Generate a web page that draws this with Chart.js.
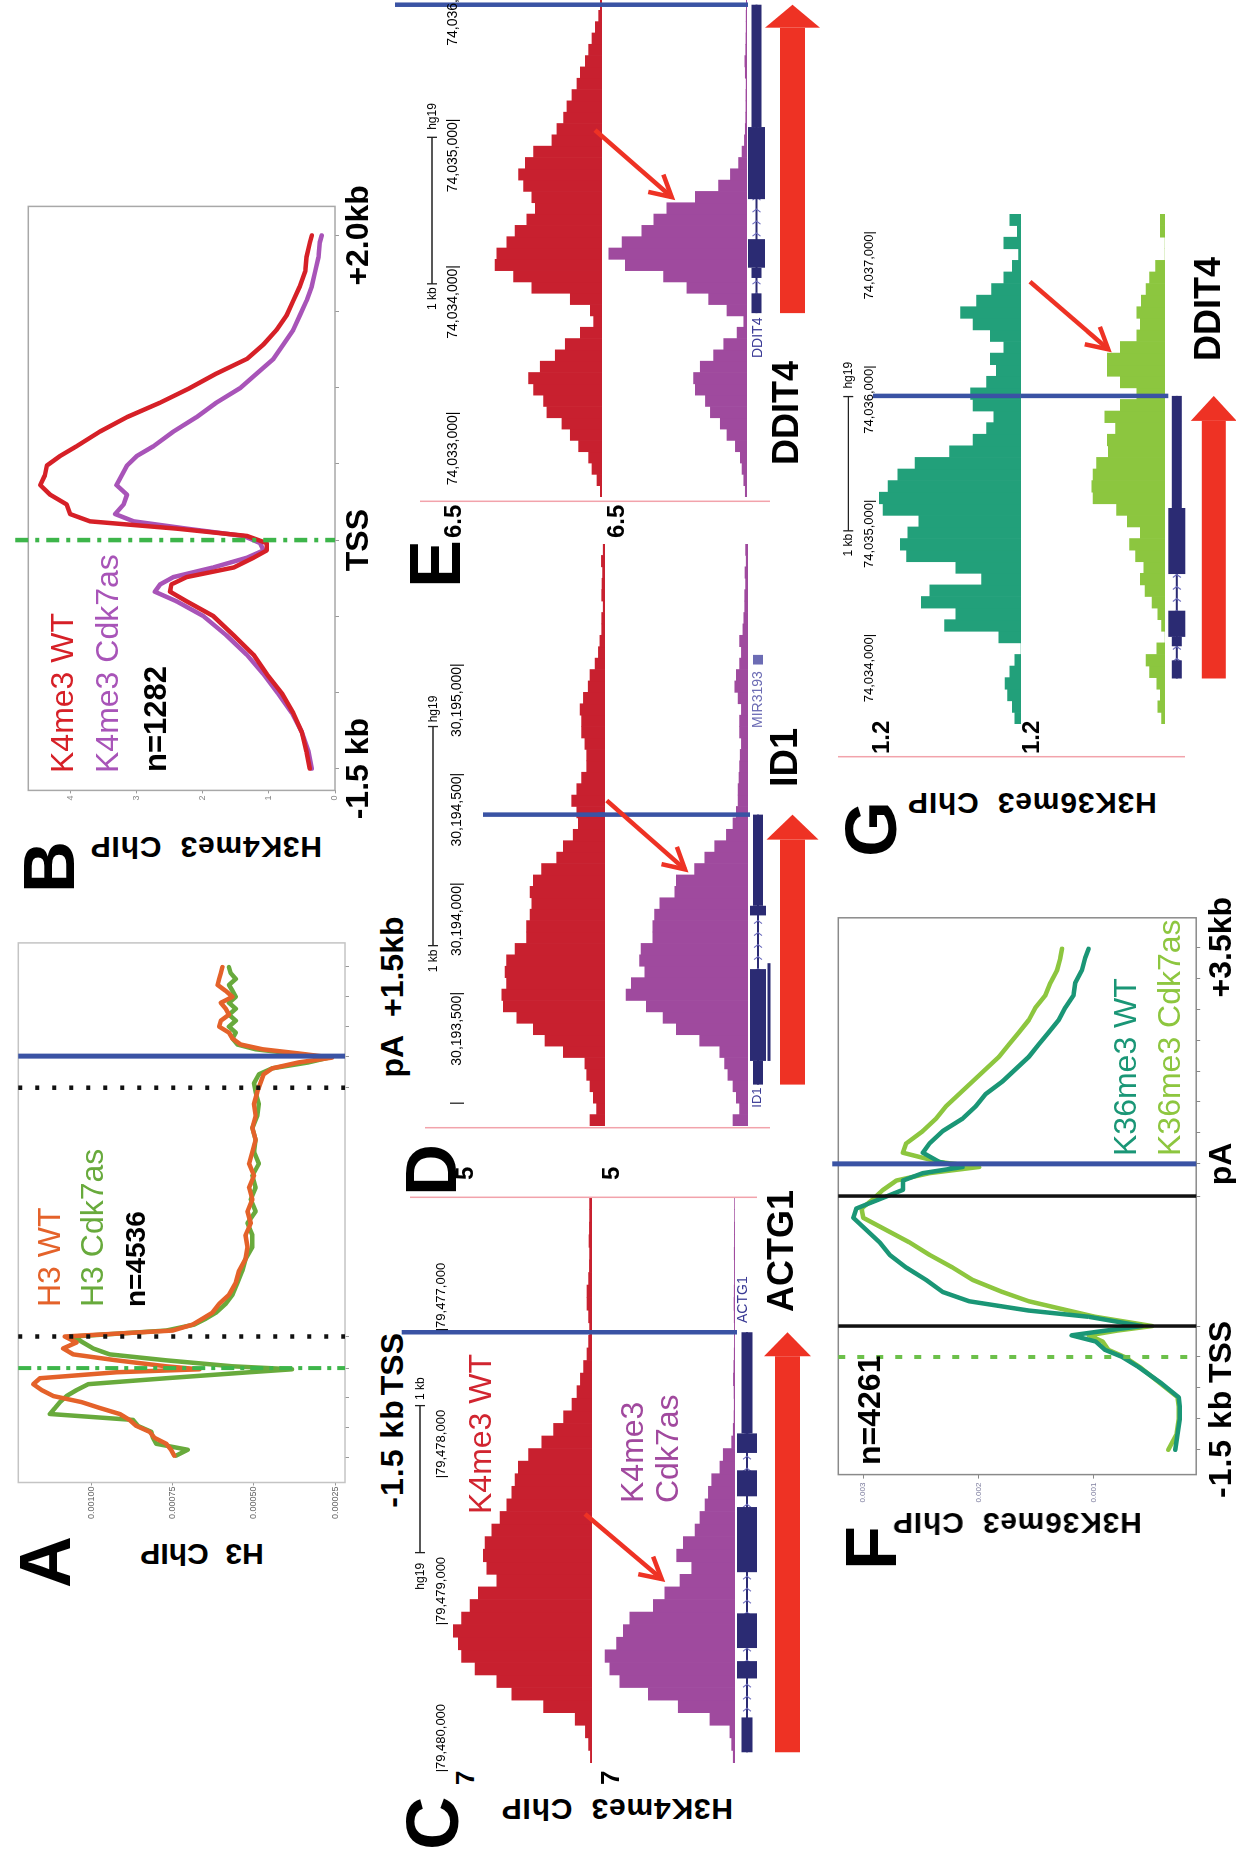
<!DOCTYPE html>
<html lang="en">
<head>
<meta charset="utf-8">
<title>H3, H3K4me3 and H3K36me3 ChIP profiles, WT vs Cdk7as</title>
<script src="https://cdn.jsdelivr.net/npm/chart.js@4.4.1/dist/chart.umd.min.js"></script>
<style>
  html, body { margin: 0; padding: 0; background: #fff; }
  body { width: 1236px; height: 1860px; overflow: hidden; position: relative; }
  /* the figure is laid out landscape (1860 x 1236) and turned a quarter turn */
  #fig { position: absolute; left: 0; top: 0; width: 1860px; height: 1236px; overflow: hidden; background: #fff;
         transform-origin: 0 0; transform: translateY(1860px) rotate(-90deg);
         font-family: 'Liberation Sans', Arial, Helvetica, sans-serif; }
  #fig canvas { position: absolute; }
  .t { position: absolute; white-space: pre; line-height: 1; }
</style>
</head>
<body>
<div id="fig"></div>
<script>
// ---------------- data ----------------

// A: H3 metagene (x in 0.5-kb units: TSS = 0, scaled gene body, pA = 10.47)
const aPos = [-2.94,-2.74,-2.54,-2.34,-2.14,-1.94,-1.74,-1.54,-1.34,-1.14,-0.94,-0.74,-0.54,-0.34,-0.14,-0.04,0.06,0.26,0.46,0.66,0.86,1.06,1.26,1.46,1.66,1.86,2.16,2.46,2.86,3.26,3.66,4.06,4.46,4.86,5.26,5.66,6.06,6.46,6.86,7.26,7.66,8.06,8.46,8.86,9.26,9.56,9.86,10.06,10.26,10.42,10.56,10.70,10.86,11.06,11.26,11.46,11.66,11.86,12.06,12.26,12.46,12.66,12.86,13.06,13.26,13.46];
const aH3WT = [0.000745,0.000755,0.00077,0.000806,0.000821,0.000862,0.000883,0.000913,0.000974,0.001031,0.001117,0.001153,0.001179,0.001158,0.000923,0.000668,0.00077,0.000923,0.001056,0.001087,0.001046,0.001082,0.00075,0.000689,0.000658,0.000628,0.000607,0.000577,0.000556,0.000546,0.000526,0.00052,0.000526,0.00051,0.00052,0.000505,0.000515,0.0005,0.000515,0.000505,0.000495,0.000505,0.000495,0.0005,0.00049,0.00048,0.00047,0.000444,0.000362,0.00026,0.000362,0.000474,0.000541,0.000566,0.000577,0.000607,0.000602,0.000577,0.000587,0.000602,0.000566,0.000587,0.000612,0.000607,0.000602,0.000597];
const aH3Cdk7as = [0.00074,0.000704,0.000801,0.000811,0.000816,0.000857,0.000872,0.001128,0.001112,0.001097,0.001077,0.001046,0.00101,0.00077,0.000515,0.000383,0.000566,0.00077,0.000944,0.000995,0.001026,0.001056,0.00077,0.000684,0.000648,0.000617,0.000587,0.000566,0.000551,0.000536,0.000526,0.000505,0.000505,0.00052,0.000495,0.00051,0.000495,0.000505,0.000485,0.0005,0.000495,0.000505,0.00049,0.000485,0.000495,0.0005,0.000485,0.000444,0.000332,0.00027,0.000383,0.000495,0.000551,0.000566,0.000556,0.000577,0.000556,0.000577,0.000556,0.000577,0.000556,0.000566,0.000577,0.000556,0.000572,0.000577];
const aTicks = [-3,-2,-1,0,1.06,9.41,10.47,11.47,12.47,13.47];
const aYTicks = [0.00025,0.0005,0.00075,0.001];

// B: H3K4me3 around the TSS (x in kb)
const bPos = [-1.50,-1.389,-1.262,-1.135,-1.007,-0.880,-0.753,-0.625,-0.498,-0.402,-0.339,-0.291,-0.243,-0.180,-0.116,-0.068,-0.020,0.027,0.075,0.123,0.171,0.234,0.298,0.361,0.425,0.489,0.552,0.616,0.712,0.807,0.902,0.998,1.093,1.189,1.284,1.380,1.475,1.571,1.666,1.762,1.857,1.953,2.0];
const bK4WT = [0.38,0.43,0.50,0.63,0.80,1.03,1.23,1.53,1.84,2.24,2.49,2.47,2.24,1.53,1.23,1.03,1.03,1.33,2.39,3.70,4.00,4.05,4.30,4.45,4.38,4.35,4.15,3.90,3.55,3.14,2.64,2.19,1.79,1.33,1.08,0.88,0.73,0.63,0.53,0.45,0.43,0.38,0.35];
const bK4Cdk7as = [0.35,0.40,0.50,0.65,0.86,1.08,1.33,1.64,1.99,2.39,2.72,2.64,2.44,1.84,1.33,1.08,1.13,1.38,2.24,3.04,3.32,3.19,3.14,3.30,3.22,3.14,2.99,2.74,2.44,2.09,1.79,1.43,1.18,0.93,0.78,0.63,0.53,0.43,0.35,0.30,0.25,0.23,0.20];
const bTicks = [-1.5,-1,-0.5,0,0.5,1,1.5,2];
const bYTicks = [0,1,2,3,4];

// F: H3K36me3 metagene (x in 0.5-kb units: TSS = 0, pA = 6.24)
const fPos = [-3.00,-2.50,-2.01,-1.60,-1.30,-0.85,-0.32,0.00,0.23,0.50,0.70,0.85,1.00,1.30,1.50,1.80,2.10,2.49,2.89,3.30,3.70,4.10,4.50,4.80,5.10,5.40,5.70,5.94,6.14,6.30,6.60,6.90,7.30,7.70,8.10,8.50,8.90,9.30,9.70,10.10,10.49,10.89,11.29,11.69,12.09,12.49,12.89,13.19];
const fK36WT = [0.00029,0.00027,0.00025,0.00025,0.00026,0.00041,0.00061,0.00075,0.0009,0.00098,0.00119,0.0009,0.00058,0.001043,0.001561,0.002079,0.002309,0.002453,0.002626,0.00277,0.002856,0.002971,0.003086,0.003058,0.002856,0.002655,0.002655,0.002482,0.002137,0.002338,0.002482,0.002424,0.002309,0.002137,0.002022,0.001935,0.001791,0.001676,0.001561,0.001475,0.001389,0.001302,0.001245,0.001173,0.001158,0.001101,0.001072,0.001043];
const fK36Cdk7as = [0.00035,0.00028,0.00026,0.00026,0.00027,0.00042,0.0006,0.00073,0.00087,0.00092,0.00104,0.0008,0.00049,0.000986,0.001216,0.001561,0.001791,0.00205,0.002223,0.002424,0.002597,0.002799,0.003,0.003014,0.002914,0.002827,0.002712,0.002424,0.001993,0.002338,0.002655,0.002626,0.002482,0.002367,0.002281,0.002165,0.00205,0.001935,0.00182,0.001734,0.001647,0.001561,0.001504,0.001417,0.001374,0.001317,0.001288,0.001273];
const fTicks = [-3,-2,-1,0,1,5.2,6.24,7.24,8.24,9.24,10.24,11.24,12.24,13.24];
const fYTicks = [0.001,0.002,0.003];

// C: ACTG1 browser tracks (equal-width bins, left to right)
const cWT = [0.08,0.17,0.33,0.84,2.42,4.01,4.76,5.85,6.52,6.68,6.93,6.52,6.10,5.68,4.76,5.26,5.43,5.35,5.01,4.59,4.26,4.01,3.84,3.68,3.17,2.51,1.92,1.42,1.00,0.75,0.58,0.42,0.25,0.17,0.12,0.17,0.25,0.25,0.17,0.13,0.12,0.15,0.13,0.12,0.12];
const cCdk7as = [0.09,0.17,0.26,1.28,2.90,4.43,5.88,6.39,6.64,6.05,5.71,5.37,4.17,3.58,2.81,2.21,2.98,2.64,2.04,1.79,1.53,1.36,1.19,0.77,0.60,0.17,0.09,0.05,0.04,0.05,0.08,0.06,0.04,0.03,0.03,0.04,0.05,0.04,0.03,0.03,0.04,0.03,0.03,0.02,0.02];
const cCoordTicks = [79480000,79479000,79478000,79477000];

// D: ID1 browser tracks
const dWT = [0.5,0.28,0.39,0.5,0.61,0.67,1.39,2.0,2.39,2.94,3.39,3.44,3.28,3.33,3.28,3.0,2.61,2.61,2.5,2.44,2.5,2.39,2.11,1.61,1.39,1.06,0.89,0.94,1.11,0.94,0.78,0.61,0.61,0.67,0.78,0.78,0.83,0.72,0.56,0.5,0.33,0.22,0.17,0.11,0.11,0.06,0.11,0.1,0.08,0.12,0.06];
const dCdk7as = [0.5,0.28,0.39,0.5,0.67,0.78,0.94,1.61,2.39,2.83,3.39,4.06,3.89,3.44,3.61,3.56,3.17,3.17,3.11,2.94,2.44,2.39,1.78,1.44,1.11,0.72,0.5,0.39,0.33,0.33,0.3,0.28,0.26,0.22,0.28,0.28,0.22,0.33,0.44,0.39,0.28,0.22,0.28,0.17,0.14,0.11,0.11,0.08,0.1,0.06,0.08];
const dCoordTicks = [30193500,30194000,30194500,30195000];

// E: DDIT4 H3K4me3 browser tracks
const eWT = [0.07,0.21,0.42,0.56,0.98,1.33,1.68,2.31,2.45,2.87,3.08,2.59,1.96,1.54,0.91,0.35,0.49,1.33,2.94,3.71,4.48,4.41,3.99,3.64,3.15,2.80,2.94,3.29,3.50,3.22,2.87,2.10,1.89,1.61,1.47,1.26,1.05,0.91,0.70,0.56,0.42,0.28,0.14,0.07];
const eCdk7as = [0.08,0.15,0.23,0.31,0.54,0.93,1.24,1.70,1.93,2.40,2.48,2.17,1.55,1.08,0.46,0.15,0.93,1.78,2.79,3.87,5.65,6.42,5.80,4.88,4.33,3.72,2.40,1.32,0.77,0.39,0.23,0.12,0.08,0.06,0.05,0.05,0.04,0.08,0.1,0.06,0.05,0.04,0.04,0.03];
const eCoordTicks = [74033000,74034000,74035000,74036000];

// G: DDIT4 H3K36me3 browser tracks
const gWT = [0.05,0.07,0.11,0.13,0.09,0.05,0,0.18,0.62,0.53,0.81,0.74,0.32,0.53,0.93,0.98,0.92,0.83,1.12,1.15,1.08,1.00,0.86,0.58,0.39,0.28,0.22,0.39,0.41,0.28,0.20,0.25,0.14,0.25,0.39,0.49,0.36,0.24,0.14,0.07,0.02,0.14,0.03,0.09];
const gCdk7as = [0.03,0.06,0.04,0.07,0.13,0.16,0.07,0,0.03,0.06,0.11,0.17,0.21,0.18,0.25,0.30,0.21,0.32,0.41,0.61,0.62,0.61,0.58,0.48,0.49,0.42,0.51,0.38,0.24,0.38,0.49,0.49,0.38,0.24,0.21,0.24,0.20,0.16,0.13,0.08,0,0,0.04,0.04];
const gCoordTicks = [74034000,74035000,74036000,74037000];

// gene models (hg19 coordinates)
const actg1Span = [79479877,79477020];
const actg1Thin = [[79479640,79479877],[79477020,79477708]];
const actg1Thick = [[79479257,79479375],[79478932,79479168],[79478209,79478652],[79477959,79478136],[79477708,79477841]];
const id1Span = [30193086,30194318];
const id1Thin = [[30193086,30193194],[30193902,30194318]];
const id1Thick = [[30193194,30193613],[30193858,30193902]];
const id1Alt = [[30193194,30193640]];
const mir3193 = [30195003,30195047];
const ddit4Span = [74033680,74035785];
const ddit4Thin = [[74033680,74033815],[74033920,74033990],[74034950,74035785]];
const ddit4Thick = [[74033990,74034185],[74034458,74034950]];

// ---------------- drawing ----------------
const fig = document.getElementById('fig');
Chart.defaults.font.family = "'Liberation Sans', Arial, Helvetica, sans-serif";

const BLUE = '#3a53a4', NAVY = '#2b2b73', ARROW_RED = '#ee3224';

function canvasAt(x, y, w, h) {
  const c = document.createElement('canvas');
  c.width = Math.round(w); c.height = Math.round(h);
  c.style.left = x + 'px'; c.style.top = y + 'px';
  fig.appendChild(c);
  return c;
}

// text placed by its left edge (or centre / right edge) and the top of its capitals
function txt(s, x, capTop, size, o = {}) {
  const d = document.createElement('div');
  d.className = 't';
  d.textContent = s;
  d.style.fontSize = size + 'px';
  d.style.fontWeight = o.bold ? '700' : '400';
  d.style.color = o.color || '#000';
  if (o.spacing) d.style.letterSpacing = o.spacing + 'px';
  d.style.left = x + 'px';
  d.style.top = (capTop - 0.1305 * size) + 'px';
  if (o.align === 'center') d.style.transform = 'translateX(-50%)';
  if (o.align === 'right') d.style.transform = 'translateX(-100%)';
  fig.appendChild(d);
  return d;
}
// axis title turned to read bottom-to-top, centred on (cx, cy)
function vtxt(s, cx, cy, size, o = {}) {
  const d = document.createElement('div');
  d.className = 't';
  d.textContent = s;
  d.style.fontSize = size + 'px';
  d.style.fontWeight = o.bold ? '700' : '400';
  d.style.color = o.color || '#000';
  if (o.spacing) d.style.letterSpacing = o.spacing + 'px';
  d.style.left = cx + 'px';
  d.style.top = cy + 'px';
  d.style.transform = 'translate(-50%,-50%) rotate(-90deg)';
  fig.appendChild(d);
  return d;
}

// box around the plotting area
const framePlugin = {
  id: 'frame',
  beforeDatasetsDraw(chart, args, o) {
    if (!o || !o.color) return;
    const { left, top, right, bottom } = chart.chartArea;
    const ctx = chart.ctx;
    ctx.save();
    ctx.strokeStyle = o.color; ctx.lineWidth = o.width || 1.5;
    ctx.strokeRect(left, top, right - left, bottom - top);
    ctx.restore();
  }
};

// vertical reference lines (TSS, gene-body boundaries, pA)
const refLinesPlugin = {
  id: 'refLines',
  afterDatasetsDraw(chart, args, o) {
    const ctx = chart.ctx, xs = chart.scales.x, { top, bottom } = chart.chartArea;
    (o.lines || []).forEach(l => {
      const px = xs.getPixelForValue(l.at);
      ctx.save();
      ctx.strokeStyle = l.color; ctx.lineWidth = l.width; ctx.setLineDash(l.dash || []);
      ctx.beginPath();
      ctx.moveTo(px, top - (l.above || 0));
      ctx.lineTo(px, bottom);
      ctx.stroke();
      ctx.restore();
    });
  }
};

function profileChart(p) {
  const c = canvasAt(p.left, p.top, p.width, p.height);
  return new Chart(c, {
    type: 'line',
    data: {
      datasets: p.series.map(s => ({
        data: p.pos.map((x, i) => ({ x, y: s.values[i] })),
        borderColor: s.color, borderWidth: 4.5, pointRadius: 0, tension: 0, fill: false,
        borderJoinStyle: 'round', borderCapStyle: 'round'
      }))
    },
    options: {
      responsive: false, animation: false, devicePixelRatio: 1,
      layout: { padding: { left: 0, top: p.padTop, right: p.padRight, bottom: 0 } },
      plugins: { legend: { display: false }, tooltip: { enabled: false },
                 frame: { color: p.frameColor }, refLines: { lines: p.lines } },
      scales: {
        x: { type: 'linear', min: p.xMin, max: p.xMax, offset: false,
             afterFit: s => { s.height = p.xAxisH; },
             afterBuildTicks: s => { s.ticks = p.xTicks.map(v => ({ value: v })); },
             ticks: { callback: () => '', autoSkip: false, maxRotation: 0, padding: 0 },
             grid: { drawOnChartArea: false, tickLength: 4, color: p.tickColor },
             border: { display: false } },
        y: { type: 'linear', min: p.yMin, max: p.yMax,
             afterFit: s => { s.width = p.yAxisW; },
             afterBuildTicks: s => { s.ticks = p.yTicks.map(v => ({ value: v })); },
             ticks: { callback: v => p.yFmt(v), color: p.yTickColor, font: { size: p.yTickSize }, padding: p.yTickPad },
             grid: { drawOnChartArea: false, tickLength: p.yTickLen, color: p.tickColor },
             border: { display: false } }
      }
    },
    plugins: [framePlugin, refLinesPlugin]
  });
}

// gene model, direction arrow, pA line and scale bar, all placed on the genomic axis
const genomeDecor = {
  id: 'genomeDecor',
  afterDatasetsDraw(chart, args, o) {
    const ctx = chart.ctx, xs = chart.scales.xg, T = o.canvasTop;
    const X = v => xs.getPixelForValue(v);
    ctx.save();
    if (o.scaleBar) {
      const sb = o.scaleBar, y = sb.y - T, x0 = X(sb.from), x1 = X(sb.to);
      ctx.strokeStyle = '#222'; ctx.lineWidth = 1.3;
      ctx.beginPath();
      ctx.moveTo(x0, y); ctx.lineTo(x1, y);
      ctx.moveTo(x0, y - 5); ctx.lineTo(x0, y + 5);
      ctx.moveTo(x1, y - 5); ctx.lineTo(x1, y + 5);
      ctx.stroke();
    }
    if (o.gene) {
      const g = o.gene, yc = g.y - T;
      const span = (a, b, h, dy) => {
        const x0 = X(a), x1 = X(b);
        ctx.fillRect(Math.min(x0, x1), yc + (dy || 0) - h / 2, Math.abs(x1 - x0), h);
      };
      ctx.fillStyle = NAVY;
      span(g.span[0], g.span[1], 2);
      const xa = X(g.span[0]), xb = X(g.span[1]), dir = Math.sign(xb - xa);
      ctx.strokeStyle = '#6f6fbf'; ctx.lineWidth = 1.2;
      for (let x = Math.min(xa, xb) + 8; x < Math.max(xa, xb) - 4; x += 12) {
        ctx.beginPath();
        ctx.moveTo(x - 3 * dir, yc - 4); ctx.lineTo(x, yc); ctx.lineTo(x - 3 * dir, yc + 4);
        ctx.stroke();
      }
      ctx.fillStyle = NAVY;
      g.thin.forEach(s => span(s[0], s[1], g.thinH));
      g.thick.forEach(s => span(s[0], s[1], g.thickH));
      (g.alt || []).forEach(s => span(s[0], s[1], 3, g.thickH / 2 + 3));
      if (g.extra) { ctx.fillStyle = '#6c6cb4'; span(g.extra[0], g.extra[1], g.thinH); }
      // transcription direction arrow spanning the gene
      const a0 = X(g.span[0]), a1 = X(g.span[1]), d = Math.sign(a1 - a0), ay = g.arrowY - T;
      const hb = a1 - d * g.headLen;
      ctx.fillStyle = ARROW_RED;
      ctx.fillRect(Math.min(a0, hb), ay - g.bodyH / 2, Math.abs(hb - a0), g.bodyH);
      ctx.beginPath();
      ctx.moveTo(hb, ay - g.headH / 2); ctx.lineTo(a1, ay); ctx.lineTo(hb, ay + g.headH / 2);
      ctx.closePath(); ctx.fill();
    }
    if (o.pA != null) {
      ctx.fillStyle = BLUE;
      ctx.fillRect(X(o.pA) - 2.25, o.blueFrom - T, 4.5, o.blueTo - o.blueFrom);
    }
    ctx.restore();
  }
};

function genomePanel(P) {
  const w = P.right - P.left;
  const charts = P.tracks.map((t, k) => {
    const c = canvasAt(P.left, t.canvasTop, w, t.canvasBottom - t.canvasTop);
    const geneTop = P.gene.y - P.gene.thickH / 2;
    return new Chart(c, {
      type: 'bar',
      data: {
        labels: t.values.map((_, i) => String(i)),
        datasets: [{ data: t.values, backgroundColor: t.color, borderWidth: 0,
                     barPercentage: 1, categoryPercentage: 1, xAxisID: 'x', yAxisID: 'y' }]
      },
      options: {
        responsive: false, animation: false, devicePixelRatio: 1,
        layout: { padding: { left: 0, right: 0, top: t.top - t.canvasTop, bottom: t.canvasBottom - t.base } },
        plugins: {
          legend: { display: false }, tooltip: { enabled: false },
          genomeDecor: {
            canvasTop: t.canvasTop, pA: P.pA,
            blueFrom: k === 0 ? P.blueFrom : t.canvasTop,
            blueTo: k === 0 ? t.canvasBottom : geneTop,
            gene: k === 1 ? P.gene : null,
            scaleBar: k === 0 ? P.scaleBar : null
          }
        },
        scales: {
          x: { display: false },
          xg: { type: 'linear', axis: 'x', display: false, offset: false,
                min: P.range[0], max: P.range[1], reverse: !!P.reverse },
          y: { display: false, min: 0, max: P.max }
        }
      },
      plugins: [genomeDecor]
    });
  });
  const xs = charts[0].scales.xg;
  return v => P.left + xs.getPixelForValue(v);
}

const fmt = v => v.toLocaleString('en-US');

// ---------- A ----------
const chartA = profileChart({
  left: 330, top: 10, width: 600, height: 350, padTop: 8.3, padRight: 12.9, yAxisW: 47.5, xAxisH: 15,
  pos: aPos,
  series: [{ values: aH3WT, color: '#e4622a' }, { values: aH3Cdk7as, color: '#68aa3c' }],
  xMin: -3.84, xMax: 14.27, xTicks: aTicks,
  yMin: 0.00022, yMax: 0.001225, yTicks: aYTicks, yFmt: v => v.toFixed(5),
  yTickColor: '#666', yTickSize: 9, yTickPad: 1, yTickLen: 3, tickColor: '#999', frameColor: '#c4c4c4',
  lines: [
    { at: 1.06, color: '#111', width: 4.5, dash: [4, 13] },
    { at: 9.41, color: '#111', width: 4.5, dash: [4, 13] },
    { at: 0, color: '#3db54a', width: 4, dash: [13, 6, 4, 6] },
    { at: 10.47, color: BLUE, width: 5 }
  ]
});
{
  const X = v => 330 + chartA.scales.x.getPixelForValue(v);
  txt('-1.5 kb', X(-3) + 4, 380, 32, { bold: 1, align: 'center', spacing: 1 });
  txt('TSS', X(0) + 4, 380, 32, { bold: 1, align: 'center' });
  txt('pA', X(10.47), 380, 32, { bold: 1, align: 'center' });
  txt('+1.5kb', X(13.47), 380, 32, { bold: 1, align: 'center' });
  txt('H3 WT', 553, 37, 32, { color: '#e4622a' });
  txt('H3 Cdk7as', 553, 80, 32, { color: '#68aa3c' });
  txt('n=4536', 553, 126, 28, { bold: 1 });
  txt('A', 272, 18, 72, { bold: 1 });
  vtxt('H3  ChIP', 306, 202, 30, { bold: 1 });
}

// ---------- B ----------
const chartB = profileChart({
  left: 1030, top: 5, width: 640, height: 355, padTop: 23.3, padRight: 16.4, yAxisW: 39.6, xAxisH: 25,
  pos: bPos,
  series: [{ values: bK4WT, color: '#d62027' }, { values: bK4Cdk7as, color: '#a854b8' }],
  xMin: -1.643, xMax: 2.19, xTicks: bTicks,
  yMin: 0, yMax: 4.63, yTicks: bYTicks, yFmt: v => String(v),
  yTickColor: '#888', yTickSize: 9, yTickPad: 2, yTickLen: 3, tickColor: '#999', frameColor: '#a8a8a8',
  lines: [{ at: 0, color: '#3db54a', width: 4.5, dash: [13, 7, 4, 7], above: 13 }]
});
{
  const X = v => 1030 + chartB.scales.x.getPixelForValue(v);
  txt('-1.5 kb', X(-1.5), 345, 32, { bold: 1, align: 'center' });
  txt('TSS', X(0), 345, 32, { bold: 1, align: 'center' });
  txt('+2.0kb', X(2), 345, 32, { bold: 1, align: 'center' });
  txt('K4me3 WT', 1087, 50, 32, { color: '#d62027' });
  txt('K4me3 Cdk7as', 1087, 95, 32, { color: '#a854b8' });
  txt('n=1282', 1088, 144, 31, { bold: 1 });
  txt('B', 967, 22, 72, { bold: 1 });
  vtxt('H3K4me3  ChIP', 1012.6, 206, 30, { bold: 1, spacing: 0.8 });
}

// ---------- F ----------
const chartF = profileChart({
  left: 340, top: 825, width: 620, height: 380, padTop: 13.3, padRight: 17.8, yAxisW: 45.4, xAxisH: 6.7,
  pos: fPos,
  series: [{ values: fK36WT, color: '#1a9676' }, { values: fK36Cdk7as, color: '#8dc63f' }],
  xMin: -3.80, xMax: 14.19, xTicks: fTicks,
  yMin: 0.000108, yMax: 0.003216, yTicks: fYTicks, yFmt: v => v.toFixed(3),
  yTickColor: '#7a7a9c', yTickSize: 8, yTickPad: 4, yTickLen: 4, tickColor: '#888', frameColor: '#8a8a8a',
  lines: [
    { at: 0, color: '#6cc04a', width: 4, dash: [7, 12] },
    { at: 1.0, color: '#111', width: 3.5 },
    { at: 5.2, color: '#111', width: 3.5 },
    { at: 6.24, color: BLUE, width: 5, above: 6 }
  ]
});
{
  const X = v => 340 + chartF.scales.x.getPixelForValue(v);
  txt('-1.5 kb', X(-3) + 6, 1208, 32, { bold: 1, align: 'center', spacing: 1 });
  txt('TSS', X(0) + 5, 1208, 32, { bold: 1, align: 'center' });
  txt('pA', X(6.24), 1208, 32, { bold: 1, align: 'center' });
  txt('+3.5kb', X(13.24), 1208, 32, { bold: 1, align: 'center' });
  txt('n=4261', 395, 857, 32, { bold: 1 });
  txt('K36me3 WT', 704, 1113, 32, { color: '#1a9676' });
  txt('K36me3 Cdk7as', 704, 1157, 32, { color: '#8dc63f' });
  txt('F', 290, 844, 72, { bold: 1 });
  vtxt('H3K36me3  ChIP', 337, 1017, 30, { bold: 1, spacing: 0.8 });
}

// ---------- C ----------
{
  const X = genomePanel({
    left: 96.7, right: 662.7, range: [79476100, 79479950], reverse: true, max: 7,
    pA: 79477020, blueFrom: 401.7,
    tracks: [
      { values: cWT, color: '#c8202f', canvasTop: 395, top: 452, base: 592, canvasBottom: 592 },
      { values: cCdk7as, color: '#9f4a9e', canvasTop: 592, top: 598, base: 735, canvasBottom: 830 }
    ],
    gene: { span: actg1Span, thin: actg1Thin, thick: actg1Thick, y: 747, thickH: 20, thinH: 11,
            arrowY: 787.5, bodyH: 25, headH: 47, headLen: 24 },
    scaleBar: { from: 79478519, to: 79477519, y: 420 }
  });
  cCoordTicks.forEach(p => txt('|' + fmt(p), X(p) - 1.7, 436, 13));
  txt('hg19', X(79478519) - 10, 415.5, 12, { align: 'right' });
  txt('1 kb', X(79477519) + 6, 415.5, 12);
  txt('ACTG1', 537, 737, 14, { color: '#3c3c96' });
  txt('ACTG1', 548, 768, 36, { bold: 1 });
  txt('7', 75, 455, 26, { bold: 1 });
  txt('7', 75, 600, 26, { bold: 1 });
  txt('K4me3 WT', 346, 468, 32, { color: '#d12530' });
  txt('K4me3', 357, 620, 32, { color: '#a1499e' });
  txt('Cdk7as', 357, 655, 32, { color: '#a1499e' });
  txt('C', 10, 406, 74, { bold: 1 });
  vtxt('H3K4me3  ChIP', 51, 617, 30, { bold: 1, spacing: 0.8 });
}

// ---------- D ----------
{
  const X = genomePanel({
    left: 734.2, right: 1316, range: [30192897, 30195553], max: 5,
    pA: 30194318, blueFrom: 483,
    tracks: [
      { values: dWT, color: '#c8202f', canvasTop: 395, top: 455, base: 605, canvasBottom: 605 },
      { values: dCdk7as, color: '#9f4a9e', canvasTop: 598, top: 598, base: 748, canvasBottom: 830 }
    ],
    gene: { span: id1Span, thin: id1Thin, thick: id1Thick, alt: id1Alt, extra: mir3193, y: 758, thickH: 16, thinH: 10,
            arrowY: 792.5, bodyH: 25, headH: 52, headLen: 25 },
    scaleBar: { from: 30193720, to: 30194720, y: 433 }
  });
  dCoordTicks.forEach(p => txt(fmt(p) + '|', X(p) + 1.7, 451, 14, { align: 'right' }));
  txt('|', X(30193000), 451, 14, { align: 'center' });
  txt('1 kb', X(30193720) - 4, 428.5, 12, { align: 'right' });
  txt('hg19', X(30194720) + 4, 428.5, 12);
  txt('ID1', 772.5, 752, 13, { color: '#3c3c96', align: 'right' });
  txt('MIR3193', 1132, 752, 14, { color: '#6c6cb4' });
  txt('ID1', 1073, 770, 38, { bold: 1 });
  txt('5', 680, 456, 24, { bold: 1 });
  txt('5', 680, 602, 24, { bold: 1 });
  txt('D', 664, 404, 72, { bold: 1 });
}

// ---------- E ----------
{
  const X = genomePanel({
    left: 1362.5, right: 1860, range: [74032425, 74035824], max: 6.5,
    pA: 74035785, blueFrom: 395,
    tracks: [
      { values: eWT, color: '#c8202f', canvasTop: 395, top: 447, base: 602, canvasBottom: 602 },
      { values: eCdk7as, color: '#9f4a9e', canvasTop: 602, top: 607, base: 747, canvasBottom: 830 }
    ],
    gene: { span: ddit4Span, thin: ddit4Thin, thick: ddit4Thick, y: 756.5, thickH: 17, thinH: 10,
            arrowY: 792.5, bodyH: 25, headH: 55, headLen: 23 },
    scaleBar: { from: 74033880, to: 74034880, y: 432 }
  });
  eCoordTicks.forEach(p => txt(fmt(p) + '|', X(p) + 1.7, 447, 14, { align: 'right' }));
  txt('1 kb', X(74033880) - 3, 427.5, 12, { align: 'right' });
  txt('hg19', X(74034880) + 8, 427.5, 12);
  txt('DDIT4', 1502, 752, 14, { color: '#3c3c96' });
  txt('DDIT4', 1395, 773, 36, { bold: 1 });
  txt('6.5', 1322, 444, 24, { bold: 1 });
  txt('6.5', 1322, 607, 24, { bold: 1 });
  txt('E', 1272, 408, 72, { bold: 1 });
}

// ---------- G ----------
{
  const X = genomePanel({
    left: 1136, right: 1645.8, range: [74033341, 74037140], max: 1.2,
    pA: 74035785, blueFrom: 873,
    tracks: [
      { values: gWT, color: '#22a07a', canvasTop: 835, top: 873.3, base: 1020.7, canvasBottom: 1020.7 },
      { values: gCdk7as, color: '#8cc63f', canvasTop: 1020.7, top: 1023.3, base: 1165, canvasBottom: 1240 }
    ],
    gene: { span: ddit4Span, thin: ddit4Thin, thick: ddit4Thick, y: 1176.5, thickH: 17, thinH: 10,
            arrowY: 1213.5, bodyH: 24, headH: 46, headLen: 25 },
    scaleBar: { from: 74034780, to: 74035780, y: 848.3 }
  });
  gCoordTicks.forEach(p => txt(fmt(p) + '|', X(p) + 1.7, 864, 13, { align: 'right' }));
  txt('1 kb', X(74034780) - 3, 844, 12, { align: 'right' });
  txt('hg19', X(74035780) + 8, 844, 12);
  txt('DDIT4', 1499, 1195, 36, { bold: 1 });
  txt('1.2', 1106, 872, 24, { bold: 1 });
  txt('1.2', 1106, 1022, 24, { bold: 1 });
  txt('G', 1003, 844, 72, { bold: 1 });
  vtxt('H3K36me3  ChIP', 1057, 1032, 30, { bold: 1, spacing: 0.8 });
}

// ---------- overlay: browser frame edges and call-out arrows ----------
{
  const NS = 'http://www.w3.org/2000/svg';
  const svg = document.createElementNS(NS, 'svg');
  svg.setAttribute('width', 1860); svg.setAttribute('height', 1236);
  svg.style.position = 'absolute'; svg.style.left = '0'; svg.style.top = '0';
  const el = (name, attrs) => {
    const e = document.createElementNS(NS, name);
    Object.entries(attrs).forEach(([k, v]) => e.setAttribute(k, v));
    svg.appendChild(e);
    return e;
  };
  [[662.7, 410, 757], [732.3, 425, 770], [1358.7, 420, 770], [1103.3, 838, 1185]].forEach(([x, y0, y1]) =>
    el('line', { x1: x, y1: y0, x2: x, y2: y1, stroke: '#f2a3ab', 'stroke-width': 1.5 }));
  const pointer = (x0, y0, x1, y1) => {
    const a = Math.atan2(y1 - y0, x1 - x0), L = 24, s = 0.5;
    el('line', { x1: x0, y1: y0, x2: x1, y2: y1, stroke: ARROW_RED, 'stroke-width': 4.5 });
    el('polyline', {
      points: `${x1 - L * Math.cos(a - s)},${y1 - L * Math.sin(a - s)} ${x1},${y1} ${x1 - L * Math.cos(a + s)},${y1 - L * Math.sin(a + s)}`,
      fill: 'none', stroke: ARROW_RED, 'stroke-width': 4.5, 'stroke-linejoin': 'miter'
    });
  };
  pointer(346, 585, 281, 661.7);
  pointer(1059.5, 606.7, 990.6, 685);
  pointer(1729.9, 595, 1662.9, 671.7);
  pointer(1578.3, 1030, 1510.7, 1108.3);
  fig.appendChild(svg);
}
</script>
</body>
</html>
